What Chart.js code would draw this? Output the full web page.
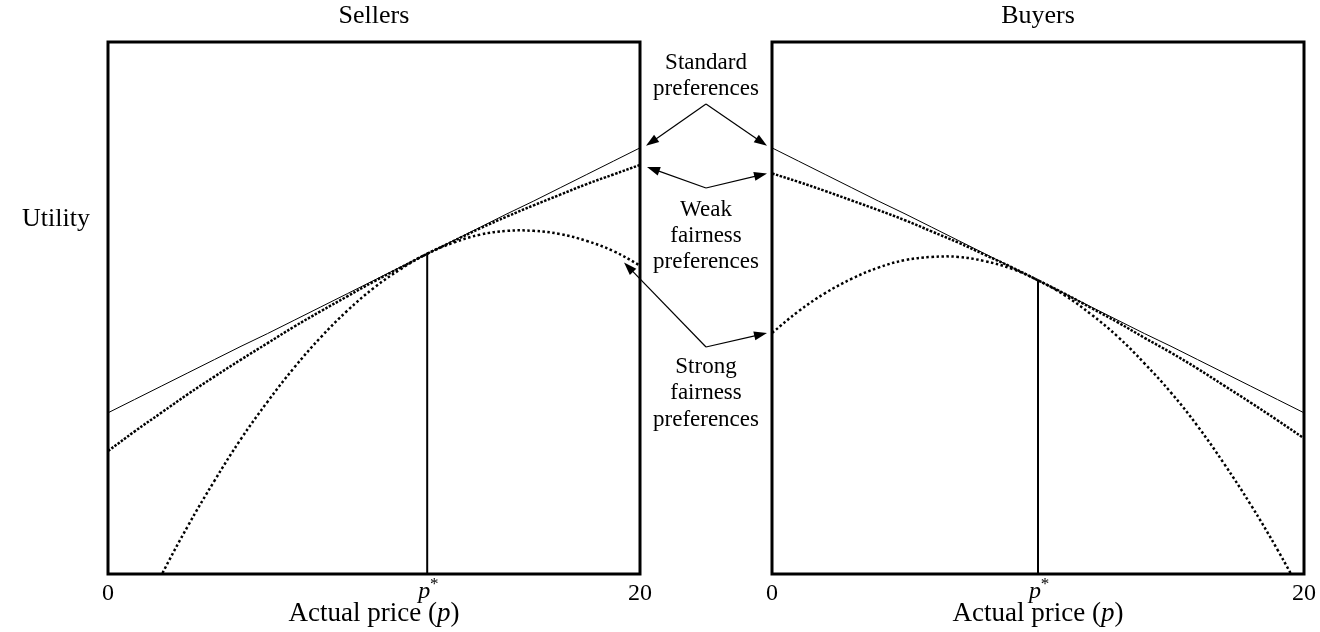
<!DOCTYPE html>
<html>
<head>
<meta charset="utf-8">
<script src="https://cdn.jsdelivr.net/npm/chart.js@4.4.0/dist/chart.umd.min.js"></script>
<style>
  body { margin: 0; background: #fff; }
  #wrap { position: relative; width: 1320px; height: 632px; }
  #wrap canvas { position: absolute; left: 0; top: 0; }
</style>
</head>
<body>
<div id="wrap">
  <canvas id="sellers" width="1320" height="632"></canvas>
  <canvas id="buyers" width="1320" height="632"></canvas>
</div>
<script>
// values (utility in arbitrary units, 0 = bottom of the box, 100 = top)
const prices = [0, 1, 2, 3, 4, 5, 6, 7, 8, 9, 10, 11, 12, 13, 14, 15, 16, 17, 18, 19, 20];
const xTicks = [0, 20];
const sellerPStar = 12;
const buyerPStar = 10;

const sellerStandard = [30.3, 32.8, 35.3, 37.8, 40.3, 42.8, 45.2, 47.7, 50.2, 52.7, 55.2, 57.7, 60.2, 62.7, 65.2, 67.7, 70.1, 72.6, 75.1, 77.6, 80.1];
const sellerWeak     = [23.1, 26.8, 30.3, 33.8, 37.1, 40.3, 43.4, 46.5, 49.4, 52.2, 55.0, 57.6, 60.2, 62.6, 65.0, 67.2, 69.3, 71.3, 73.3, 75.1, 76.9];
const sellerStrong   = [-21.0, -10.3, -0.3, 9.0, 17.5, 25.4, 32.4, 38.8, 44.5, 49.5, 53.8, 57.3, 60.2, 62.3, 63.8, 64.5, 64.5, 63.9, 62.6, 60.7, 58.0];

const buyerStandard = [80.1, 77.6, 75.1, 72.6, 70.1, 67.7, 65.2, 62.7, 60.2, 57.7, 55.2, 52.7, 50.2, 47.7, 45.2, 42.8, 40.3, 37.8, 35.3, 32.8, 30.3];
const buyerWeak     = [75.3, 73.7, 72.0, 70.2, 68.4, 66.5, 64.4, 62.3, 60.0, 57.7, 55.2, 52.7, 50.0, 47.3, 44.4, 41.6, 38.6, 35.4, 32.2, 28.9, 25.5];
const buyerStrong   = [45.3, 49.4, 52.8, 55.5, 57.6, 59.0, 59.6, 59.6, 58.8, 57.4, 55.2, 52.4, 48.8, 44.6, 39.6, 34.1, 27.8, 20.7, 13.0, 4.6, -4.5];

const SERIF = "'Liberation Serif', 'DejaVu Serif', serif";

function pts(ys) {
  return prices.map((p, i) => ({ x: p, y: ys[i] }));
}

function arrow(ctx, x0, y0, x1, y1) {
  const ang = Math.atan2(y1 - y0, x1 - x0);
  const len = 13, half = 4.5;
  ctx.beginPath();
  ctx.moveTo(x0, y0);
  ctx.lineTo(x1 - Math.cos(ang) * len * 0.8, y1 - Math.sin(ang) * len * 0.8);
  ctx.stroke();
  ctx.beginPath();
  ctx.moveTo(x1, y1);
  ctx.lineTo(x1 - Math.cos(ang) * len - Math.sin(ang) * half, y1 - Math.sin(ang) * len + Math.cos(ang) * half);
  ctx.lineTo(x1 - Math.cos(ang) * len + Math.sin(ang) * half, y1 - Math.sin(ang) * len - Math.cos(ang) * half);
  ctx.closePath();
  ctx.fill();
}

// box, titles, p* label and the annotations in the middle
const panelPlugin = {
  id: 'panel',
  afterDatasetsDraw(chart) {
    const { ctx, chartArea: a } = chart;
    ctx.save();
    ctx.strokeStyle = '#000';
    ctx.lineWidth = 3;
    ctx.strokeRect(a.left, a.top, a.right - a.left, a.bottom - a.top);
    ctx.restore();
  },
  afterDraw(chart, args, opts) {
    const { ctx, chartArea: a, scales } = chart;
    const x = scales.x, y = scales.y;
    const cx = (a.left + a.right) / 2;
    ctx.save();
    ctx.fillStyle = '#000';
    ctx.strokeStyle = '#000';
    ctx.textBaseline = 'middle';

    // panel title
    ctx.textAlign = 'center';
    ctx.font = '26px ' + SERIF;
    ctx.fillText(opts.title, cx, 16);

    // p* tick label
    const px = x.getPixelForValue(opts.pStar);
    ctx.font = 'italic 24px ' + SERIF;
    ctx.fillText('p', px - 3, 592);
    ctx.font = '17px ' + SERIF;
    ctx.fillText('*', px + 7, 585);

    // x axis title with italic p
    const parts = [['Actual price (', '27px ' + SERIF], ['p', 'italic 27px ' + SERIF], [')', '27px ' + SERIF]];
    let w = 0;
    parts.forEach(pt => { ctx.font = pt[1]; w += ctx.measureText(pt[0]).width; });
    let tx = cx - w / 2;
    ctx.textAlign = 'left';
    parts.forEach(pt => { ctx.font = pt[1]; ctx.fillText(pt[0], tx, 614); tx += ctx.measureText(pt[0]).width; });

    // arrows toward the curve ends
    ctx.lineWidth = 1.2;
    const apexes = [[706, 104], [706, 188], [706, 347]];
    let tips;
    if (opts.side === 'left') {
      tips = [
        [a.right + 6, y.getPixelForValue(sellerStandard[20]) - 2],
        [a.right + 7, y.getPixelForValue(sellerWeak[20]) + 2],
        [x.getPixelForValue(19.4), y.getPixelForValue(sellerStrong[20]) - 3]
      ];
    } else {
      tips = [
        [a.left - 5, y.getPixelForValue(buyerStandard[0]) - 2],
        [a.left - 5, y.getPixelForValue(buyerWeak[0])],
        [a.left - 5, y.getPixelForValue(buyerStrong[0])]
      ];
    }
    tips.forEach((t, i) => arrow(ctx, apexes[i][0], apexes[i][1], t[0], t[1]));

    if (opts.side === 'left') {
      ctx.textAlign = 'center';
      ctx.font = '26px ' + SERIF;
      ctx.fillText('Utility', 56, 219);
      ctx.font = '23px ' + SERIF;
      const lines = [
        ['Standard', 63], ['preferences', 89],
        ['Weak', 210], ['fairness', 236], ['preferences', 262],
        ['Strong', 367], ['fairness', 393], ['preferences', 420]
      ];
      lines.forEach(l => ctx.fillText(l[0], 706, l[1]));
    }
    ctx.restore();
  }
};

function makePanel(id, side, title, pStar, standard, weak, strong) {
  const pad = side === 'left' ? { left: 108, right: 680, top: 42, bottom: 0 } : { left: 772, right: 16, top: 42, bottom: 0 };
  const dotted = { borderColor: '#000', borderWidth: 2.5, pointRadius: 0, tension: 0.4, fill: false };
  return new Chart(document.getElementById(id), {
    type: 'line',
    data: {
      datasets: [
        { label: 'Standard preferences', data: pts(standard), borderColor: '#000', borderWidth: 1, pointRadius: 0, tension: 0, fill: false },
        Object.assign({ label: 'Weak fairness preferences', data: pts(weak), borderDash: [2.5, 1.5] }, dotted),
        Object.assign({ label: 'Strong fairness preferences', data: pts(strong), borderDash: [2.5, 2.5] }, dotted),
        { label: 'p*', data: [{ x: pStar, y: 0 }, { x: pStar, y: standard[prices.indexOf(pStar)] }], borderColor: '#000', borderWidth: 2, pointRadius: 0, fill: false }
      ]
    },
    options: {
      responsive: false,
      animation: false,
      layout: { padding: pad },
      plugins: {
        legend: { display: false },
        tooltip: { enabled: false },
        title: { display: false },
        panel: { side, title, pStar }
      },
      scales: {
        x: {
          type: 'linear',
          min: 0,
          max: 20,
          grid: { display: false, drawTicks: false },
          border: { display: false },
          afterBuildTicks: s => { s.ticks = xTicks.concat([pStar]).map(v => ({ value: v })); },
          afterFit: s => { s.height = 58; },
          ticks: {
            padding: 5,
            maxRotation: 0,
            autoSkip: false,
            color: '#000',
            font: { family: SERIF, size: 24 },
            callback: v => (v === pStar ? '' : String(v))
          }
        },
        y: { display: false, min: 0, max: 100 }
      }
    },
    plugins: [panelPlugin]
  });
}

makePanel('sellers', 'left', 'Sellers', sellerPStar, sellerStandard, sellerWeak, sellerStrong);
makePanel('buyers', 'right', 'Buyers', buyerPStar, buyerStandard, buyerWeak, buyerStrong);
</script>
</body>
</html>
